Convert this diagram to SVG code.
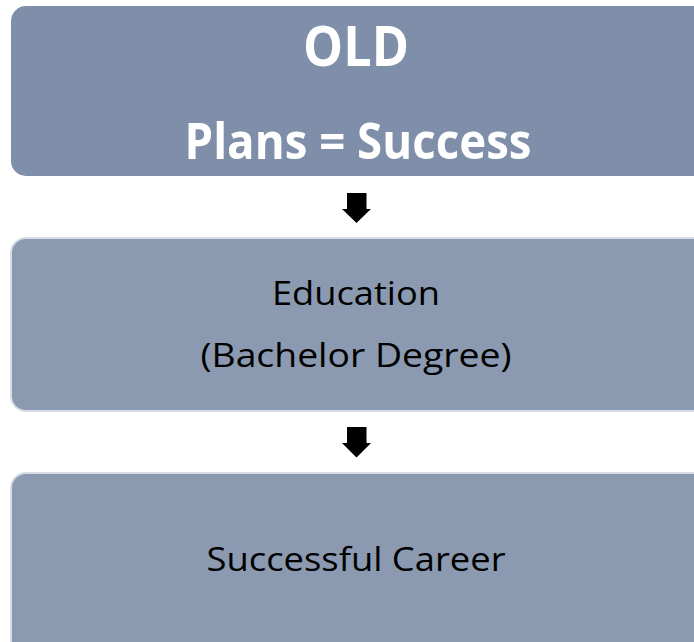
<svg xmlns="http://www.w3.org/2000/svg" width="694" height="642" viewBox="0 0 694 642">
<style>
.box1{fill:#7f8fa9;}
.box{fill:#8b9ab0;stroke:#d6dbe6;stroke-width:2;}
.tb{font-family:"Open Sans","Liberation Sans",sans-serif;font-weight:bold;fill:#ffffff;text-anchor:middle;}
.tn{font-family:"Open Sans","Liberation Sans",sans-serif;fill:#000000;text-anchor:middle;}
.arrow{fill:#000000;}
</style>
<rect x="0" y="0" width="694" height="642" fill="#ffffff"/>
<g id="node-old">
<rect class="box1" x="11" y="6" width="700" height="170" rx="15" ry="15"/>
<text class="tb" x="356" y="66" font-size="55" textLength="106" lengthAdjust="spacingAndGlyphs">OLD</text>
<text class="tb" x="358" y="159" font-size="51" textLength="347" lengthAdjust="spacingAndGlyphs">Plans = Success</text>
</g>
<g id="node-education">
<rect class="box" x="11" y="238" width="700" height="173" rx="15" ry="15"/>
<text class="tn" x="356" y="305" font-size="33" textLength="168" lengthAdjust="spacingAndGlyphs">Education</text>
<text class="tn" x="356" y="367" font-size="33" textLength="311" lengthAdjust="spacingAndGlyphs">(Bachelor Degree)</text>
</g>
<g id="node-career">
<rect class="box" x="11" y="473" width="700" height="190" rx="15" ry="15"/>
<text class="tn" x="356" y="571" font-size="33" textLength="299" lengthAdjust="spacingAndGlyphs">Successful Career</text>
</g>
<g id="connectors">
<polygon class="arrow" points="347,193 366.5,193 366.5,209 371,209 356.5,223 342,209 347,209"/>
<polygon class="arrow" points="347,427 366.5,427 366.5,443 371,443 356.5,457.5 342,443 347,443"/>
</g>
</svg>
